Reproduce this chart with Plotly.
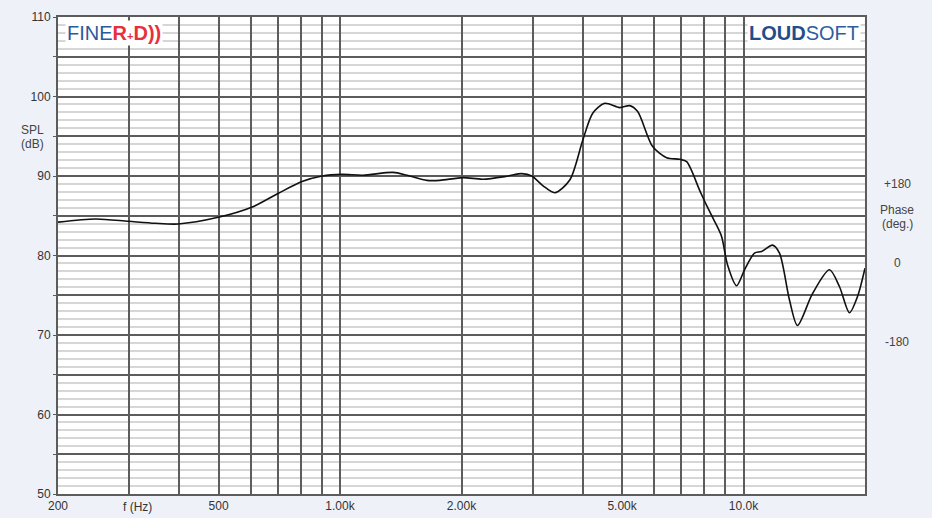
import math
import plotly.graph_objects as go

# ---- data ----
freq_hz = [200, 248, 299, 348, 397, 499, 606, 702, 805, 903, 1011, 1140, 1353, 1465,
           1642, 1768, 2016, 2259, 2591, 2822, 2987, 3180, 3406, 3710, 3995, 4229,
           4529, 4932, 5222, 5466, 5953, 6449, 6944, 7227, 7785, 8100, 8477, 8822,
           9129, 9608, 10058, 10647, 11080, 11797, 12277, 12998, 13604, 14822,
           16329, 17284, 18301, 19153, 20000]
spl_db = [84.2, 84.6, 84.3, 84.05, 83.96, 84.8, 86.1, 87.8, 89.3, 90.0, 90.2, 90.1,
          90.45, 90.1, 89.45, 89.45, 89.8, 89.6, 89.97, 90.3, 90.0, 88.8, 87.9,
          89.5, 94.5, 97.9, 99.15, 98.6, 98.85, 98.1, 93.7, 92.3, 92.1, 91.8, 88.2,
          86.3, 84.3, 82.4, 78.8, 76.2, 78.2, 80.3, 80.5, 81.3, 80.3, 74.4, 71.2,
          75.2, 78.2, 76.1, 72.8, 74.8, 78.4]

x_grid_hz = [200, 300, 400, 500, 600, 700, 800, 900, 1000, 2000, 3000, 4000, 5000,
             6000, 7000, 8000, 9000, 10000]
x_label_map = {200: "200", 500: "500", 1000: "1.00k", 2000: "2.00k", 5000: "5.00k",
               10000: "10.0k"}
y_major = list(range(50, 111, 5))
y_labels = [str(v) if v % 10 == 0 else "" for v in y_major]

phase_labels = ["+180", "0", "-180"]

FONT = "Liberation Sans, Arial, sans-serif"
DARK = "#5c5c5c"
LIGHT = "#d6d6d6"
W, H = 932, 518
ML, MR, MT, MB = 58, 67, 17, 24
PW, PH = W - ML - MR, H - MT - MB

fig = go.Figure()
fig.add_trace(go.Scatter(x=freq_hz, y=spl_db, mode="lines",
                         line=dict(color="#111111", width=1.6, shape="spline",
                                   smoothing=0.8),
                         hoverinfo="skip", showlegend=False))

fig.update_layout(
    width=W, height=H,
    margin=dict(l=ML, r=MR, t=MT, b=MB, autoexpand=False),
    paper_bgcolor="#eff1f8", plot_bgcolor="#ffffff",
    font=dict(family=FONT, size=12, color="#333333"),
    showlegend=False,
)
fig.update_xaxes(
    type="log", range=[math.log10(200), math.log10(20000)],
    tickvals=x_grid_hz, ticktext=[x_label_map.get(v, "") for v in x_grid_hz],
    showgrid=True, gridcolor=DARK, gridwidth=2,
    showline=True, linecolor=DARK, linewidth=2, mirror=True,
    ticks="", zeroline=False, automargin=False,
    tickfont=dict(size=12, color="#333333"),
)
fig.update_yaxes(
    range=[50, 110], tickvals=y_major, ticktext=y_labels,
    showgrid=True, gridcolor=DARK, gridwidth=2,
    minor=dict(dtick=1, showgrid=True, gridcolor=LIGHT, gridwidth=2),
    showline=True, linecolor=DARK, linewidth=2, mirror=True,
    ticks="outside", ticklen=3, tickcolor=DARK, zeroline=False, automargin=False,
    tickfont=dict(size=12, color="#333333"),
)

ann = []
def pix_text(px, py, text, size=12, color="#444444", xanchor="center", **kw):
    ann.append(dict(x=(px - ML) / PW, y=(H - MB - py) / PH, xref="paper", yref="paper",
                    text=text, showarrow=False, xanchor=xanchor, yanchor="middle",
                    font=dict(family=FONT, size=size, color=color), **kw))

pix_text(137, 507, "f (Hz)", color="#333333")
pix_text(32, 130, "SPL", color="#444444")
pix_text(32, 144, "(dB)", color="#444444")
pix_text(897, 184, phase_labels[0])
pix_text(897, 210, "Phase")
pix_text(897, 224, "(deg.)")
pix_text(897, 263, phase_labels[1])
pix_text(897, 342, phase_labels[2])

# logos
pix_text(65, 33,
         "<span style='color:#2b5a9b'>FINE</span>"
         "<span style='color:#e8303c'><b>R</b><span style='font-size:11px'><b>+</b></span><b>D))</b></span>",
         size=20, xanchor="left", bgcolor="#ffffff", borderpad=1)
pix_text(861, 33,
         "<b><span style='color:#1f4d8c'>LOUD</span></b><span style='color:#2f5e9e'>SOFT</span>",
         size=20, xanchor="right", bgcolor="#ffffff", borderpad=1)

fig.update_layout(annotations=ann)
fig.write_html("out.html", config={"displayModeBar": False},
               post_script="document.body.style.margin='0';document.body.style.padding='0';")
